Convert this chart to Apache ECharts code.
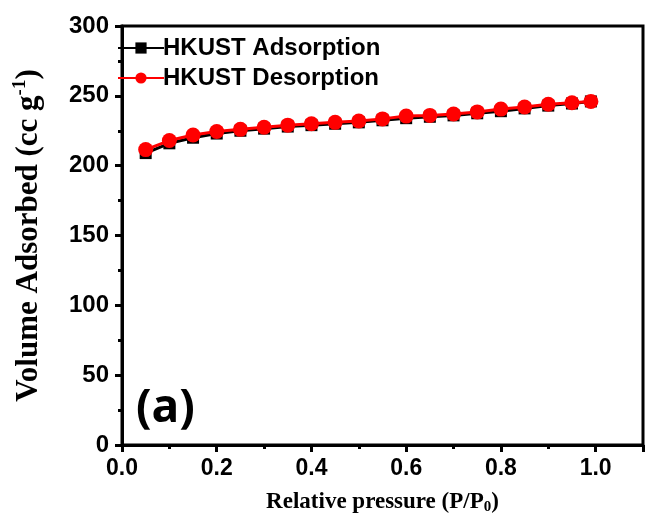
<!DOCTYPE html>
<html>
<head>
<meta charset="utf-8">
<script src="https://cdn.jsdelivr.net/npm/echarts@6/dist/echarts.min.js"></script>
<style>
  html, body { margin: 0; padding: 0; background: #fff; }
  #chart { width: 646px; height: 523px; }
</style>
</head>
<body>
<div id="chart"></div>
<script>
// 数据
const pressure = [0.05, 0.10, 0.15, 0.20, 0.25, 0.30, 0.35, 0.40, 0.45, 0.50,
                  0.55, 0.60, 0.65, 0.70, 0.75, 0.80, 0.85, 0.90, 0.95, 0.99];
const adsorption = [209, 216, 220, 223, 225, 226.5, 228, 229, 230, 231,
                    232.5, 234, 235, 236, 237.5, 239, 241, 243, 244.5, 246];
const desorption = [211.5, 218, 222, 224.5, 226, 227.5, 229, 230, 231, 232,
                    233.5, 235.5, 236, 237, 238.5, 240.5, 242, 244, 245, 246];

const chart = echarts.init(document.getElementById('chart'));

const sans = 'Liberation Sans';
const serif = 'Liberation Serif';

const option = {
    animation: false,
    grid: {
        left: 122,
        right: 3,
        top: 26,
        bottom: 78,
        outerBoundsMode: 'none',
        containLabel: false,
        show: true,
        borderColor: '#000',
        borderWidth: 3
    },
    legend: {
        orient: 'vertical',
        left: 112,
        top: 31,
        itemWidth: 46,
        itemHeight: 14,
        itemGap: 6,
        textStyle: { fontFamily: sans, fontWeight: 'bold', fontSize: 24, color: '#000', padding: [0, 0, 0, -6] },
        data: ['HKUST Adsorption', 'HKUST Desorption']
    },
    xAxis: {
        type: 'value',
        min: 0,
        max: 1.1,
        interval: 0.2,
        name: '{b|Relative pressure (P/P}{sub|0}{b|)}',
        nameLocation: 'middle',
        nameGap: 45,
        nameTextStyle: {
            rich: {
                b: { fontFamily: serif, fontWeight: 'bold', fontSize: 23, color: '#000' },
                sub: { fontFamily: serif, fontWeight: 'bold', fontSize: 15, color: '#000', verticalAlign: 'bottom', padding: [10, 0, 0, 0] }
            }
        },
        axisLine: { lineStyle: { color: '#000', width: 3 } },
        axisTick: { inside: false, length: 7, lineStyle: { width: 3, color: '#000' } },
        minorTick: { show: true, splitNumber: 2, length: 4, lineStyle: { width: 3, color: '#000' } },
        splitLine: { show: false },
        axisLabel: {
            fontFamily: sans, fontWeight: 'bold', fontSize: 23, color: '#000', margin: 12,
            formatter: v => v.toFixed(1),
            showMaxLabel: false
        }
    },
    yAxis: {
        type: 'value',
        min: 0,
        max: 300,
        interval: 50,
        name: '{b|Volume Adsorbed (cc g}{sup|-1}{b|)}',
        nameLocation: 'middle',
        nameGap: 76,
        nameTextStyle: {
            rich: {
                b: { fontFamily: serif, fontWeight: 'bold', fontSize: 31, color: '#000' },
                sup: { fontFamily: serif, fontWeight: 'bold', fontSize: 19, color: '#000', verticalAlign: 'top', padding: [0, 0, 16, 0] }
            }
        },
        axisLine: { lineStyle: { color: '#000', width: 3 } },
        axisTick: { inside: false, length: 7, lineStyle: { width: 3, color: '#000' } },
        minorTick: { show: true, splitNumber: 2, length: 4, lineStyle: { width: 3, color: '#000' } },
        splitLine: { show: false },
        axisLabel: { fontFamily: sans, fontWeight: 'bold', fontSize: 24, color: '#000', margin: 13 }
    },
    graphic: [{
        type: 'text',
        left: 136,
        top: 386,
        style: { text: '(a)', fontFamily: 'Open Sans', fontWeight: 'bold', fontSize: 46, fill: '#000' }
    }],
    series: [
        {
            name: 'HKUST Adsorption',
            type: 'line',
            data: pressure.map((p, i) => [p, adsorption[i]]),
            symbol: 'rect',
            symbolSize: 12,
            itemStyle: { color: '#000' },
            lineStyle: { color: '#000', width: 3 },
            z: 2
        },
        {
            name: 'HKUST Desorption',
            type: 'line',
            data: pressure.map((p, i) => [p, desorption[i]]),
            symbol: 'circle',
            symbolSize: 15,
            itemStyle: { color: '#ff0000' },
            lineStyle: { color: '#ff0000', width: 3 },
            z: 3
        }
    ]
};

chart.setOption(option);
</script>
</body>
</html>
